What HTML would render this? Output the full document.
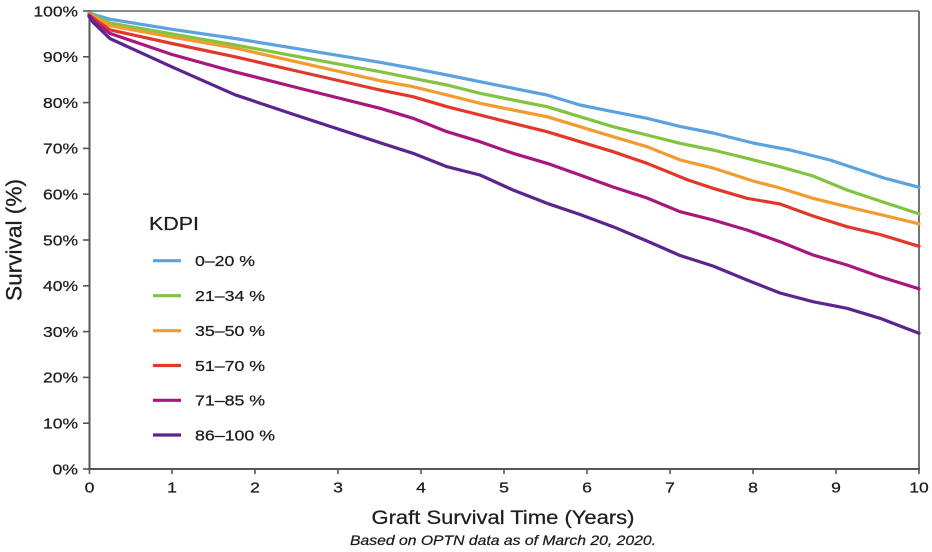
<!DOCTYPE html>
<html>
<head>
<meta charset="utf-8">
<style>
  html, body { margin: 0; padding: 0; background: #ffffff; }
  svg { display: block; }
  text { font-family: "Liberation Sans", Arial, sans-serif; fill: #1e1e1e; stroke: #1e1e1e; stroke-width: 0.25; }
</style>
</head>
<body>
<svg width="932" height="552" viewBox="0 0 932 552" xmlns="http://www.w3.org/2000/svg">
  <rect x="0" y="0" width="932" height="552" fill="#ffffff"/>

  <!-- frame -->
  <line x1="89" y1="11" x2="919" y2="11" stroke="#666" stroke-width="1.6"/>
  <line x1="919" y1="11" x2="919" y2="469" stroke="#666" stroke-width="1.8"/>
  <line x1="89.5" y1="10" x2="89.5" y2="470" stroke="#555" stroke-width="2"/>
  <line x1="88" y1="469" x2="920" y2="469" stroke="#555" stroke-width="2"/>

  <!-- y ticks -->
  <g stroke="#555" stroke-width="1.6">
    <line x1="83" y1="11" x2="89" y2="11"/>
    <line x1="83" y1="56.8" x2="89" y2="56.8"/>
    <line x1="83" y1="102.6" x2="89" y2="102.6"/>
    <line x1="83" y1="148.4" x2="89" y2="148.4"/>
    <line x1="83" y1="194.2" x2="89" y2="194.2"/>
    <line x1="83" y1="240" x2="89" y2="240"/>
    <line x1="83" y1="285.8" x2="89" y2="285.8"/>
    <line x1="83" y1="331.6" x2="89" y2="331.6"/>
    <line x1="83" y1="377.4" x2="89" y2="377.4"/>
    <line x1="83" y1="423.2" x2="89" y2="423.2"/>
    <line x1="83" y1="469" x2="89" y2="469"/>
  </g>
  <!-- x ticks -->
  <g stroke="#555" stroke-width="1.6">
    <line x1="89.5" y1="469" x2="89.5" y2="474"/>
    <line x1="172" y1="469" x2="172" y2="474"/>
    <line x1="255" y1="469" x2="255" y2="474"/>
    <line x1="338" y1="469" x2="338" y2="474"/>
    <line x1="421" y1="469" x2="421" y2="474"/>
    <line x1="504" y1="469" x2="504" y2="474"/>
    <line x1="587" y1="469" x2="587" y2="474"/>
    <line x1="670" y1="469" x2="670" y2="474"/>
    <line x1="753" y1="469" x2="753" y2="474"/>
    <line x1="836" y1="469" x2="836" y2="474"/>
    <line x1="919" y1="469" x2="919" y2="474"/>
  </g>

  <!-- y tick labels -->
  <g font-size="15" text-anchor="end">
    <text x="78" y="16.3" textLength="44.5" lengthAdjust="spacingAndGlyphs">100%</text>
    <text x="78" y="62.1" textLength="35" lengthAdjust="spacingAndGlyphs">90%</text>
    <text x="78" y="107.9" textLength="35" lengthAdjust="spacingAndGlyphs">80%</text>
    <text x="78" y="153.7" textLength="35" lengthAdjust="spacingAndGlyphs">70%</text>
    <text x="78" y="199.5" textLength="35" lengthAdjust="spacingAndGlyphs">60%</text>
    <text x="78" y="245.3" textLength="35" lengthAdjust="spacingAndGlyphs">50%</text>
    <text x="78" y="291.1" textLength="35" lengthAdjust="spacingAndGlyphs">40%</text>
    <text x="78" y="336.9" textLength="35" lengthAdjust="spacingAndGlyphs">30%</text>
    <text x="78" y="382.7" textLength="35" lengthAdjust="spacingAndGlyphs">20%</text>
    <text x="78" y="428.5" textLength="35" lengthAdjust="spacingAndGlyphs">10%</text>
    <text x="78" y="474.3" textLength="25.5" lengthAdjust="spacingAndGlyphs">0%</text>
  </g>

  <!-- x tick labels -->
  <g font-size="15" text-anchor="middle">
    <text x="89.5" y="492.5" textLength="9.8" lengthAdjust="spacingAndGlyphs">0</text>
    <text x="172" y="492.5" textLength="9.8" lengthAdjust="spacingAndGlyphs">1</text>
    <text x="255" y="492.5" textLength="9.8" lengthAdjust="spacingAndGlyphs">2</text>
    <text x="338" y="492.5" textLength="9.8" lengthAdjust="spacingAndGlyphs">3</text>
    <text x="421" y="492.5" textLength="9.8" lengthAdjust="spacingAndGlyphs">4</text>
    <text x="504" y="492.5" textLength="9.8" lengthAdjust="spacingAndGlyphs">5</text>
    <text x="587" y="492.5" textLength="9.8" lengthAdjust="spacingAndGlyphs">6</text>
    <text x="670" y="492.5" textLength="9.8" lengthAdjust="spacingAndGlyphs">7</text>
    <text x="753" y="492.5" textLength="9.8" lengthAdjust="spacingAndGlyphs">8</text>
    <text x="836" y="492.5" textLength="9.8" lengthAdjust="spacingAndGlyphs">9</text>
    <text x="919" y="492.5" textLength="19.5" lengthAdjust="spacingAndGlyphs">10</text>
  </g>

  <!-- axis titles -->
  <text x="503" y="524" font-size="19" text-anchor="middle" textLength="263" lengthAdjust="spacingAndGlyphs">Graft Survival Time (Years)</text>
  <text x="503" y="545" font-size="14" font-style="italic" text-anchor="middle" textLength="306" lengthAdjust="spacingAndGlyphs">Based on OPTN data as of March 20, 2020.</text>
  <text transform="translate(21.5,240) scale(1.17,1) rotate(-90)" x="0" y="0" font-size="19" text-anchor="middle" textLength="122" lengthAdjust="spacingAndGlyphs">Survival (%)</text>

  <!-- series -->
  <g fill="none" stroke-width="3.2" stroke-linejoin="round" stroke-linecap="round">
    <polyline stroke="#5ba3e0" points="89,12.8 97.3,15.6 109.8,19.2 172,29.3 235.1,38.5 296.5,48.6 380,62.3 413,68.3 447,75 480,81.7 513,88.3 547,95 580,105 613,111.7 647,118.3 680,126.4 713,133 753,143 790,150 830,160 860,170 884,178 919,187.3"/>
    <polyline stroke="#82c341" points="89,13.3 97.3,17.4 109.8,22.9 172,33.9 235.1,44.9 296.5,56.3 380,71.7 413,78.3 447,85 480,93.3 513,100 547,106.7 580,116.7 613,126.7 647,135 680,143.3 713,150 747,158.3 780,166.7 813,176 847,190 880,201 919,213.9"/>
    <polyline stroke="#f29b2e" points="89,13.8 97.3,18.8 109.8,25.7 172,37.1 235.1,48.1 296.5,61.8 380,80.7 413,86.7 447,95 480,103.3 513,110 547,116.7 580,126.7 613,136.7 647,146.7 680,159.9 713,168 753,181 780,188 813,198.3 847,206.7 880,214.5 919,223.8"/>
    <polyline stroke="#e2382b" points="89,14.7 97.3,21.1 109.8,29.8 172,43.5 235.1,56.8 296.5,71 380,90 413,96.7 447,106.7 480,115 513,123.3 547,131.7 580,141.7 613,151.7 647,163.3 688,180 713,188.3 747,198.3 780,204 813,216 847,226.7 880,234.5 919,246.3"/>
    <polyline stroke="#a8177c" points="89,15.6 97.3,23.8 109.8,33.4 172,54.5 235.1,71.9 296.5,87.5 380,108.3 413,118.3 447,131.7 480,141.7 513,153.3 547,163.3 580,175 613,187 647,198 680,211.7 713,220 747,230 780,241.7 813,255 847,265 880,276.7 919,288.8"/>
    <polyline stroke="#5b2590" points="89,16.5 93.2,22.5 109.8,38.5 172,66.9 235.1,94.8 296.5,115.4 380,142.7 413,153.3 447,166.7 480,175 513,190 547,203.3 580,214.5 613,226.7 647,241 680,255.5 713,266 747,280 780,293 813,301.7 847,308.3 880,318.3 919,333.3"/>
  </g>

  <!-- legend -->
  <text x="149" y="230" font-size="18" textLength="50" lengthAdjust="spacingAndGlyphs">KDPI</text>
  <g stroke-width="3.2" stroke-linecap="butt">
    <line x1="153" y1="260.7" x2="181" y2="260.7" stroke="#5ba3e0"/>
    <line x1="153" y1="295.7" x2="181" y2="295.7" stroke="#82c341"/>
    <line x1="153" y1="330.7" x2="181" y2="330.7" stroke="#f29b2e"/>
    <line x1="153" y1="365.5" x2="181" y2="365.5" stroke="#e2382b"/>
    <line x1="153" y1="400.3" x2="181" y2="400.3" stroke="#a8177c"/>
    <line x1="153" y1="435" x2="181" y2="435" stroke="#5b2590"/>
  </g>
  <g font-size="15">
    <text x="195" y="266" textLength="60" lengthAdjust="spacingAndGlyphs">0–20 %</text>
    <text x="195" y="301" textLength="70" lengthAdjust="spacingAndGlyphs">21–34 %</text>
    <text x="195" y="336" textLength="70" lengthAdjust="spacingAndGlyphs">35–50 %</text>
    <text x="195" y="370.8" textLength="70" lengthAdjust="spacingAndGlyphs">51–70 %</text>
    <text x="195" y="405.6" textLength="70" lengthAdjust="spacingAndGlyphs">71–85 %</text>
    <text x="195" y="440.3" textLength="80" lengthAdjust="spacingAndGlyphs">86–100 %</text>
  </g>
</svg>
</body>
</html>
